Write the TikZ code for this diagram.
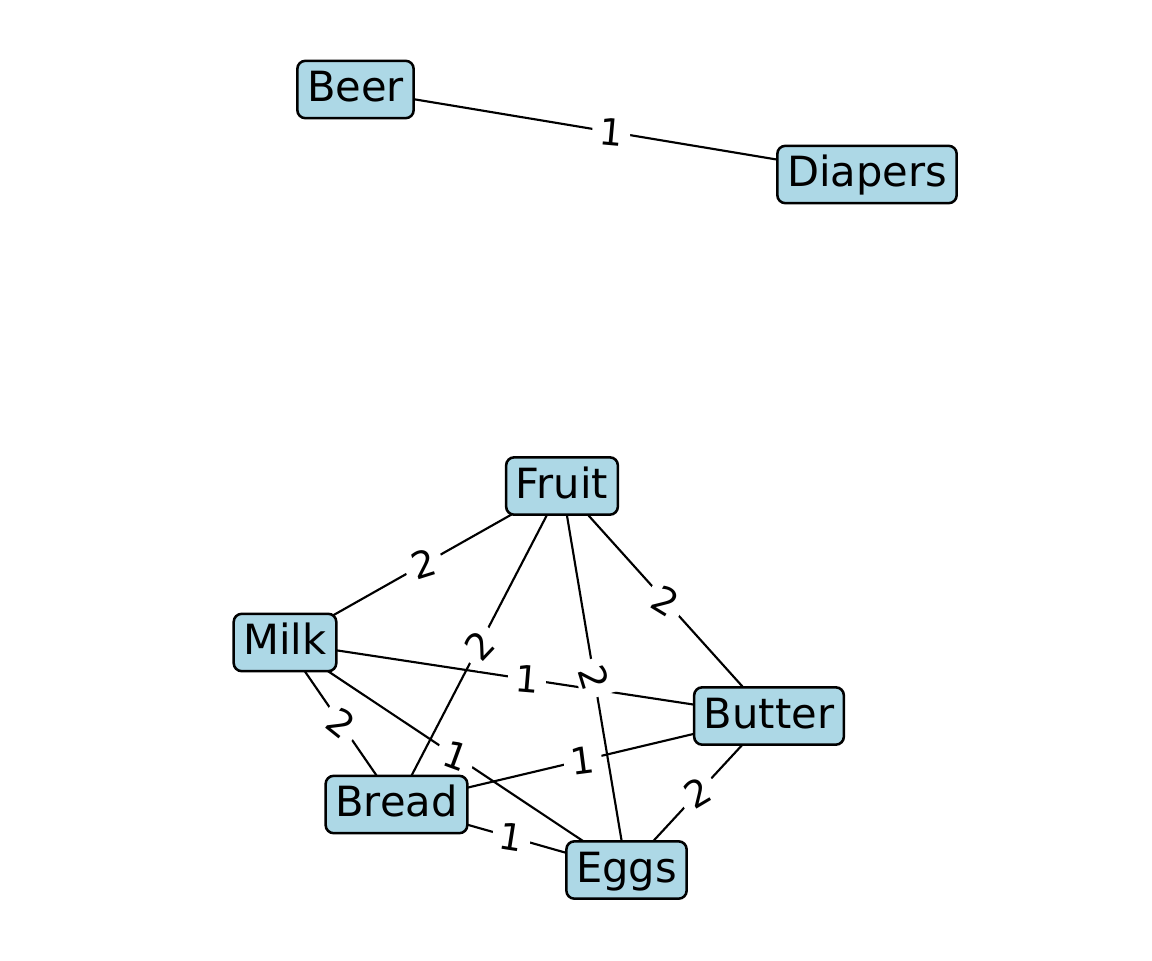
\documentclass[tikz,border=0pt]{standalone}
\usepackage{fontspec}
\setmainfont{DejaVu Sans}
\usepackage{tikz}
\usetikzlibrary{backgrounds}
\definecolor{lightblue}{RGB}{173,216,230}

% from/to/weight/label angle
\def\edgelist{beer/diapers/1/-5.2, fruit/milk/2/17.3, fruit/bread/2/46.6, fruit/eggs/2/-73, fruit/butter/2/-31.4, milk/butter/1/-4.8, milk/bread/2/-38.6, milk/eggs/1/-20.1, bread/butter/1/7.4, bread/eggs/1/-8.9, butter/eggs/2/30.7}

\begin{document}
\begin{tikzpicture}[x=0.75pt,y=0.75pt,yscale=-1,
  item/.style={draw=black, line width=1.9pt, fill=lightblue, rounded corners=6pt,
    inner xsep=7.3pt, inner ysep=2pt, minimum height=43pt,
    text height=25pt, text depth=6.5pt, font=\fontsize{31.2}{36}\selectfont},
  link/.style={draw=black, line width=1.6pt},
  weight/.style={midway, fill=white, inner xsep=5.5pt, inner ysep=3pt,
    font=\fontsize{27.7}{32}\selectfont}]
\useasboundingbox (0,0) rectangle (1152,960);

%Nodes
\node[item] (beer) at (355.5,89.5) {Beer};
\node[item] (diapers) at (867,174.5) {Diapers};
\node[item] (fruit) at (562,486) {Fruit};
\node[item] (milk) at (285,642.5) {Milk};
\node[item] (butter) at (769,716) {Butter};
\node[item] (bread) at (396.5,804.5) {Bread};
\node[item] (eggs) at (626.5,870) {Eggs};

%Edges and weights
\begin{scope}[on background layer]
\foreach \a/\b/\w/\r in \edgelist
  \draw[link] (\a.center) -- (\b.center);
\foreach \a/\b/\w/\r in \edgelist
  \path (\a.center) -- node[weight, rotate=\r] {\w} (\b.center);
\end{scope}

\end{tikzpicture}
\end{document}
